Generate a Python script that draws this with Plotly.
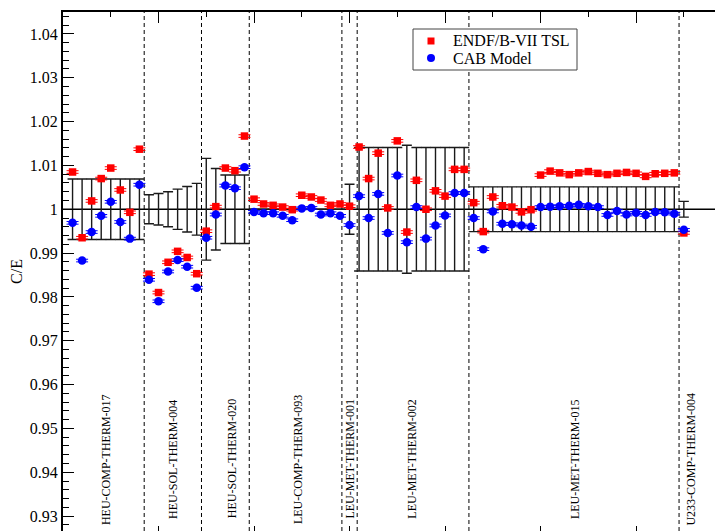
import plotly.graph_objects as go

# ---------------- data ----------------
case_index = list(range(1, 66))

endf_tsl = [
    1.0085, 0.9935, 1.0019, 1.0070, 1.0094, 1.0044, 0.9993, 1.0137,          # HEU-COMP-THERM-017
    0.9852, 0.9810, 0.9879, 0.9904, 0.9890, 0.9853,                          # HEU-SOL-THERM-004
    0.9950, 1.0006, 1.0094, 1.0088, 1.0167,                                  # HEU-SOL-THERM-020
    1.0023, 1.0012, 1.0009, 1.0005, 0.9999, 1.0032, 1.0028, 1.0021, 1.0009, 1.0012,  # LEU-COMP-THERM-093
    1.0007,                                                                  # LEU-MET-THERM-001
    1.0142, 1.0070, 1.0128, 1.0003, 1.0156, 0.9948, 1.0066, 1.0000, 1.0042, 1.0030, 1.0091, 1.0091,  # LEU-MET-THERM-002
    1.0015, 0.9949, 1.0028, 1.0008, 1.0005, 0.9994, 0.9999, 1.0078, 1.0087, 1.0083, 1.0079,
    1.0083, 1.0086, 1.0082, 1.0079, 1.0082, 1.0084, 1.0082, 1.0075, 1.0081, 1.0082, 1.0083,  # LEU-MET-THERM-015
    0.9946,                                                                  # U233-COMP-THERM-004
]

cab_model = [
    0.9969, 0.9883, 0.9948, 0.9985, 1.0017, 0.9971, 0.9933, 1.0056,
    0.9839, 0.9790, 0.9858, 0.9884, 0.9869, 0.9821,
    0.9935, 0.9988, 1.0054, 1.0048, 1.0096,
    0.9994, 0.9991, 0.9991, 0.9985, 0.9975, 1.0002, 1.0003, 0.9988, 0.9991, 0.9985,
    0.9964,
    1.0030, 0.9980, 1.0035, 0.9946, 1.0077, 0.9925, 1.0005, 0.9933, 0.9963, 0.9986, 1.0037, 1.0037,
    0.9980, 0.9909, 0.9995, 0.9967, 0.9966, 0.9963, 0.9960, 1.0005, 1.0006, 1.0007, 1.0008,
    1.0010, 1.0007, 1.0005, 0.9987, 0.9996, 0.9988, 0.9992, 0.9987, 0.9994, 0.9993, 0.9990,
    0.9953,
]

# benchmark (experimental) uncertainty, drawn as error bars around C/E = 1
bench_unc = [
    0.0069, 0.0069, 0.0069, 0.0069, 0.0069, 0.0069, 0.0069, 0.0069,
    0.0033, 0.0036, 0.0040, 0.0046, 0.0052, 0.0059,
    0.0116, 0.0093, 0.0078, 0.0078, 0.0078,
    0.0, 0.0, 0.0, 0.0, 0.0, 0.0, 0.0, 0.0, 0.0, 0.0,
    0.0057,
    0.0141, 0.0141, 0.0141, 0.0141, 0.0141, 0.0146, 0.0141, 0.0141, 0.0141, 0.0141, 0.0141, 0.0141,
    0.0051, 0.0051, 0.0051, 0.0051, 0.0051, 0.0051, 0.0051, 0.0051, 0.0051, 0.0051, 0.0051,
    0.0051, 0.0051, 0.0051, 0.0051, 0.0051, 0.0051, 0.0051, 0.0051, 0.0051, 0.0051, 0.0051,
    0.0018,
]
reference_ce = [1.0] * len(case_index)
stat_unc = 0.0003

series_names = ["ENDF/B-VII TSL", "CAB Model"]
series_colors = ["#ff0000", "#0000ff"]

group_names = [
    "HEU-COMP-THERM-017", "HEU-SOL-THERM-004", "HEU-SOL-THERM-020",
    "LEU-COMP-THERM-093", "LEU-MET-THERM-001", "LEU-MET-THERM-002",
    "LEU-MET-THERM-015", "U233-COMP-THERM-004",
]
group_bounds = [8.5, 14.5, 19.5, 29.2, 30.8, 42.5, 64.5]
label_x = [4.5, 11.5, 17.7, 24.6, 30.1, 36.6, 53.6, 65.8]

y_ticks = [0.93, 0.94, 0.95, 0.96, 0.97, 0.98, 0.99, 1.00, 1.01, 1.02, 1.03, 1.04]
y_tick_text = ["0.93", "0.94", "0.95", "0.96", "0.97", "0.98", "0.99", "1",
               "1.01", "1.02", "1.03", "1.04"]

# ---------------- figure ----------------
FONT = "Liberation Serif, Times New Roman, serif"
BODY = 8                      # default page margin around the plot div
W, H = 723 - BODY, 531 - BODY
ML, MT = 63 - BODY, 12 - BODY
PW, PH = W - ML, H - MT
X_RANGE = [0, 69.1]
Y_RANGE = [0.9266, 1.045]


def px_x(p):
    return (p - BODY - ML) / PW


def px_y(p):
    return 1 - (p - BODY - MT) / PH


fig = go.Figure()

# benchmark uncertainty bars
fig.add_trace(go.Scatter(
    x=case_index, y=reference_ce, mode="markers",
    marker=dict(size=1, color="rgba(0,0,0,0)"),
    error_y=dict(type="data", array=bench_unc, visible=True,
                 color="#1a1a1a", thickness=1.4, width=5),
    showlegend=False, hoverinfo="skip",
))

fig.add_trace(go.Scatter(
    x=case_index, y=endf_tsl, mode="markers", name=series_names[0],
    marker=dict(symbol="square", size=7.5, color=series_colors[0]),
    error_y=dict(type="constant", value=stat_unc, color=series_colors[0],
                 thickness=1, width=6),
    showlegend=False,
))
fig.add_trace(go.Scatter(
    x=case_index, y=cab_model, mode="markers", name=series_names[1],
    marker=dict(symbol="circle", size=8.5, color=series_colors[1]),
    error_y=dict(type="constant", value=stat_unc, color=series_colors[1],
                 thickness=1, width=6),
    showlegend=False,
))

# helper traces so the top and right decorative axes are drawn
fig.add_trace(go.Scatter(x=[None], y=[None], xaxis="x2", yaxis="y",
                         showlegend=False, hoverinfo="skip"))
fig.add_trace(go.Scatter(x=[None], y=[None], xaxis="x", yaxis="y2",
                         showlegend=False, hoverinfo="skip"))

shapes = [dict(type="line", xref="paper", x0=0, x1=1, yref="y", y0=1.0, y1=1.0,
               line=dict(color="black", width=1.3), layer="below")]
for b in group_bounds:
    shapes.append(dict(type="line", xref="x", x0=b, x1=b, yref="paper", y0=0, y1=1,
                       line=dict(color="black", width=1, dash="4px,3px"), layer="below"))

annotations = [
    dict(x=lx, y=0.943, xref="x", yref="y", text=name, textangle=-90,
         showarrow=False, font=dict(family=FONT, size=12, color="black"))
    for lx, name in zip(label_x, group_names)
]

# legend box (drawn by hand so that its compact geometry matches)
shapes.append(dict(type="rect", xref="paper", yref="paper",
                   x0=px_x(413), x1=px_x(577), y0=px_y(70), y1=px_y(29),
                   line=dict(color="#444", width=1), fillcolor="white", layer="above"))
shapes.append(dict(type="rect", xref="paper", yref="paper",
                   x0=px_x(427.5), x1=px_x(434.5), y0=px_y(44.5), y1=px_y(37.5),
                   line=dict(width=0), fillcolor=series_colors[0], layer="above"))
shapes.append(dict(type="circle", xref="paper", yref="paper",
                   x0=px_x(427), x1=px_x(435), y0=px_y(62), y1=px_y(54),
                   line=dict(width=0), fillcolor=series_colors[1], layer="above"))
for name, cy in zip(series_names, [41, 58]):
    annotations.append(dict(x=px_x(451), y=px_y(cy), xref="paper", yref="paper",
                            xanchor="left", yanchor="middle", text=name,
                            showarrow=False,
                            font=dict(family=FONT, size=16, color="black")))

fig.update_layout(
    width=W, height=H, autosize=False,
    margin=dict(l=ML, r=0, t=MT, b=0, pad=0, autoexpand=False),
    paper_bgcolor="white", plot_bgcolor="white",
    font=dict(family=FONT, size=16, color="black"),
    shapes=shapes, annotations=annotations,
    showlegend=False,
    xaxis=dict(range=X_RANGE, showgrid=False, zeroline=False, showline=False,
               automargin=False,
               ticks="inside", ticklen=5, tickwidth=1, tickcolor="black",
               tick0=0, dtick=10, showticklabels=False),
    xaxis2=dict(range=X_RANGE, overlaying="x", side="top", anchor="y",
                automargin=False,
                showgrid=False, zeroline=False, showline=True, linecolor="black",
                linewidth=2, ticks="inside", ticklen=11, tickwidth=1,
                tickcolor="black", tick0=0, dtick=10, showticklabels=False,
                minor=dict(ticks="inside", ticklen=5, tickwidth=1,
                           tickcolor="black", tick0=0, dtick=5, showgrid=False)),
    yaxis=dict(range=Y_RANGE, showgrid=False, zeroline=False, showline=True,
               automargin=False,
               linecolor="black", linewidth=2, ticks="inside", ticklen=11,
               tickwidth=1, tickcolor="black", tickvals=y_ticks,
               ticktext=y_tick_text, tickfont=dict(family=FONT, size=16),
               minor=dict(ticks="inside", ticklen=6, tickwidth=1,
                          tickcolor="black", dtick=0.002, tick0=0.92,
                          showgrid=False),
               title=dict(text="C/E", font=dict(family=FONT, size=16),
                          standoff=6)),
    yaxis2=dict(range=Y_RANGE, overlaying="y", side="right", anchor="x",
                automargin=False,
                showgrid=False, zeroline=False, showline=False,
                ticks="inside", ticklen=4, tickwidth=1, tickcolor="black",
                tickvals=y_ticks, showticklabels=False),
)

fig.write_html("out.html")
